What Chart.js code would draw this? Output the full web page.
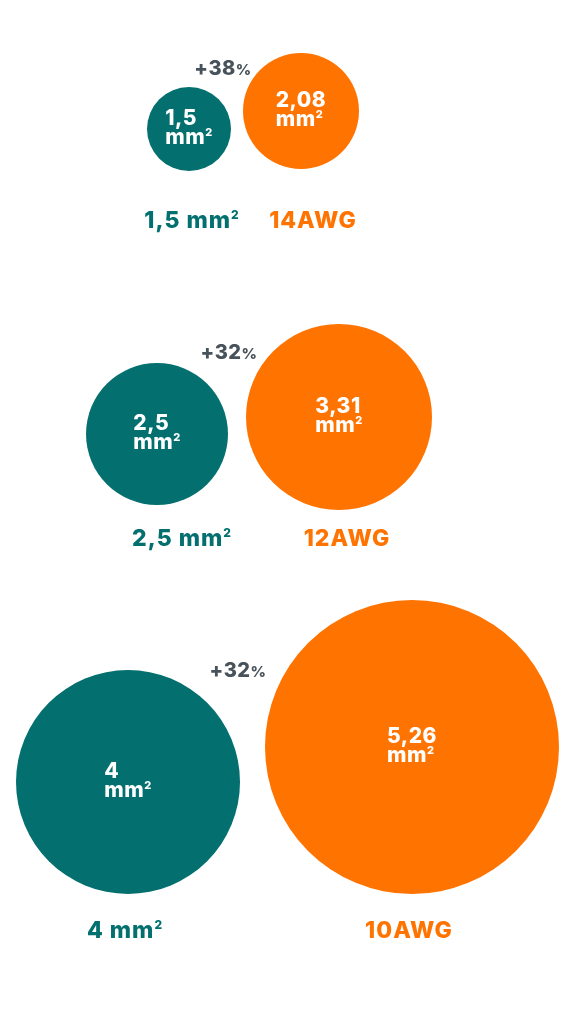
<!DOCTYPE html>
<html>
<head>
<meta charset="utf-8">
<script src="https://cdn.jsdelivr.net/npm/chart.js@4.4.1/dist/chart.umd.min.js"></script>
<style>
  html, body { margin: 0; padding: 0; background: #fff; }
  #wrap { width: 577px; height: 1024px; position: relative; }
</style>
</head>
<body>
<div id="wrap"><canvas id="chart"></canvas></div>
<script>
// cable cross sections: metric sizes vs. the nearest AWG gauge
const METRIC_AREA   = [1.5, 2.5, 4];
const METRIC_TEXT   = ['1,5', '2,5', '4'];
const METRIC_LABELS = ['1,5 mm', '2,5 mm', '4 mm'];   // "²" drawn as a small raised 2
const AWG_AREA      = [2.08, 3.31, 5.26];
const AWG_TEXT      = ['2,08', '3,31', '5,26'];
const AWG_LABELS    = ['14AWG', '12AWG', '10AWG'];
const INCREASE      = ['+38', '+32', '+32'];

// layout only: circle centres / radii and label anchors, in canvas pixels
const LAYOUT = [
    { m: { x: 189, y: 129, r: 42 }, a: { x: 301, y: 111, r: 58 }, lblY: 228, mLblX: 192, aLblX: 313, pct: { x: 223, y: 68 } },
    { m: { x: 157, y: 434, r: 71 }, a: { x: 339, y: 417, r: 93 }, lblY: 546, mLblX: 182, aLblX: 347, pct: { x: 229, y: 352 } },
    { m: { x: 128, y: 782, r: 112 }, a: { x: 412, y: 747, r: 147 }, lblY: 938, mLblX: 125, aLblX: 409, pct: { x: 238, y: 670 } },
];

const TEAL   = '#036f6f';
const ORANGE = '#ff7300';
const GREY   = '#47525a';
const FONT   = 'Inter, "Open Sans", sans-serif';

const metricPoints = METRIC_AREA.map((v, i) => ({ x: LAYOUT[i].m.x, y: LAYOUT[i].m.y, r: LAYOUT[i].m.r, v }));
const awgPoints    = AWG_AREA.map((v, i) => ({ x: LAYOUT[i].a.x, y: LAYOUT[i].a.y, r: LAYOUT[i].a.r, v }));

// width of "mm" + small superscript 2
function unitWidth(ctx, size, base) {
    ctx.font = `800 ${size}px ${FONT}`;
    const w = ctx.measureText(base).width;
    ctx.font = `800 ${Math.round(size * 0.5)}px ${FONT}`;
    return w + ctx.measureText('2').width;
}
function drawUnit(ctx, size, base, x, y) {
    ctx.font = `800 ${size}px ${FONT}`;
    ctx.fillText(base, x, y);
    const w = ctx.measureText(base).width;
    ctx.font = `800 ${Math.round(size * 0.5)}px ${FONT}`;
    ctx.fillText('2', x + w, y - size * 0.38);
}

function drawCentered(ctx, el, first) {
    const size = 21;
    ctx.font = `800 ${size}px ${FONT}`;
    const w = Math.max(ctx.measureText(first).width, unitWidth(ctx, size, 'mm'));
    const left = el.x - w / 2;
    ctx.textAlign = 'left';
    ctx.textBaseline = 'alphabetic';
    ctx.font = `800 ${size}px ${FONT}`;
    ctx.fillText(first, left, el.y - 4);
    drawUnit(ctx, size, 'mm', left, el.y + 15);
}

const labelPlugin = {
    id: 'labels',
    afterDatasetsDraw(chart) {
        const ctx = chart.ctx;
        const mMeta = chart.getDatasetMeta(0).data;
        const aMeta = chart.getDatasetMeta(1).data;
        ctx.save();
        ctx.letterSpacing = '0.5px';
        ctx.fillStyle = '#fff';
        mMeta.forEach((el, i) => drawCentered(ctx, el, METRIC_TEXT[i]));
        aMeta.forEach((el, i) => drawCentered(ctx, el, AWG_TEXT[i]));

        LAYOUT.forEach((L, i) => {
            ctx.textAlign = 'left';
            ctx.textBaseline = 'alphabetic';
            // bottom captions
            const size = 23;
            ctx.letterSpacing = '1px';
            const wm = unitWidth(ctx, size, METRIC_LABELS[i]);
            ctx.fillStyle = TEAL;
            drawUnit(ctx, size, METRIC_LABELS[i], L.mLblX - wm / 2, L.lblY);
            ctx.font = `800 ${size}px ${FONT}`;
            const wa = ctx.measureText(AWG_LABELS[i]).width;
            ctx.fillStyle = ORANGE;
            ctx.fillText(AWG_LABELS[i], L.aLblX - wa / 2, L.lblY);

            // increase tag, smaller percent sign
            ctx.letterSpacing = '0.5px';
            ctx.fillStyle = GREY;
            ctx.font = `800 20px ${FONT}`;
            const num = INCREASE[i];
            const wn = ctx.measureText(num).width;
            ctx.font = `800 15px ${FONT}`;
            const wp = ctx.measureText('%').width;
            const left = L.pct.x - (wn + wp) / 2;
            ctx.font = `800 20px ${FONT}`;
            ctx.fillText(num, left, L.pct.y + 7);
            ctx.font = `800 15px ${FONT}`;
            ctx.fillText('%', left + wn, L.pct.y + 7);
        });
        ctx.restore();
    }
};

new Chart(document.getElementById('chart'), {
    type: 'bubble',
    data: {
        datasets: [
            { label: 'mm²', data: metricPoints, backgroundColor: TEAL, borderWidth: 0, hoverBorderWidth: 0, clip: false },
            { label: 'AWG', data: awgPoints, backgroundColor: ORANGE, borderWidth: 0, hoverBorderWidth: 0, clip: false },
        ]
    },
    options: {
        responsive: true,
        maintainAspectRatio: false,
        animation: false,
        events: [],
        layout: { padding: 0, autoPadding: false },
        plugins: { legend: { display: false }, tooltip: { enabled: false } },
        scales: {
            x: { type: 'linear', min: 0, max: 577, display: false },
            y: { type: 'linear', min: 0, max: 1024, reverse: true, display: false }
        }
    },
    plugins: [labelPlugin]
});
</script>
</body>
</html>
